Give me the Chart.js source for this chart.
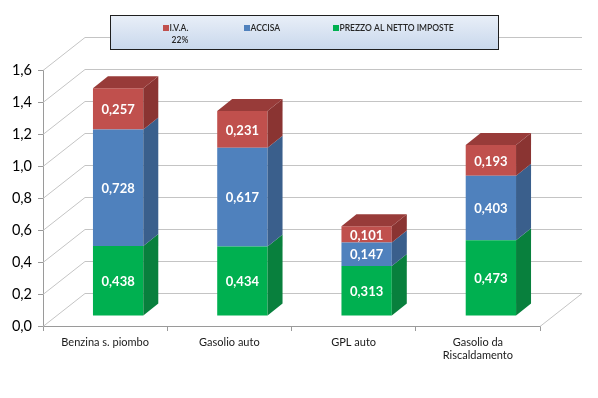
<!DOCTYPE html>
<html>
<head>
<meta charset="utf-8">
<script src="https://cdn.jsdelivr.net/npm/chart.js@4/dist/chart.umd.min.js"></script>
<style>
  html, body { margin: 0; padding: 0; background: #fff; }
  #wrap { width: 598px; height: 398px; }
</style>
</head>
<body>
<div id="wrap"><canvas id="mycanvas" width="598" height="398"></canvas></div>
<script>
// data
var categories = ['Benzina s. piombo', 'Gasolio auto', 'GPL auto', ['Gasolio da', 'Riscaldamento']];
var iva    = [0.257, 0.231, 0.101, 0.193];
var accisa = [0.728, 0.617, 0.147, 0.403];
var netto  = [0.438, 0.434, 0.313, 0.473];
var seriesNames = ['I.V.A.', 'ACCISA', 'PREZZO AL NETTO IMPOSTE'];
var ivaNote = '22%';

// 3d look
var WALL_DX = 42, WALL_DY = -33;   // back wall offset
var BAR_DX = 13, BAR_DY = -10;     // bars sit a bit inside the floor
var SIDE_DX = 15, SIDE_DY = -12;   // bar depth

var shades = {
  netto:  { front: '#00B050', side: '#08803D', top: '#0A8F45' },
  accisa: { front: '#4F81BD', side: '#3A5F8C', top: '#42699A' },
  iva:    { front: '#C0504D', side: '#8A3432', top: '#983B39' }
};

function fmt(v, d) {
  return v.toFixed(d).replace('.', ',');
}

var depth3d = {
  id: 'depth3d',
  beforeDatasetsDraw: function(chart) {
    var ctx = chart.ctx, a = chart.chartArea, y = chart.scales.y;
    ctx.save();
    ctx.strokeStyle = '#c4c4c4';
    ctx.lineWidth = 1;
    y.ticks.forEach(function(t) {
      var py = Math.round(y.getPixelForValue(t.value)) + 0.5;
      ctx.beginPath();
      ctx.moveTo(a.left, py);
      ctx.lineTo(a.left + WALL_DX, py + WALL_DY);
      ctx.lineTo(a.right + WALL_DX, py + WALL_DY);
      ctx.stroke();
    });
    ctx.beginPath();
    ctx.moveTo(a.right, a.bottom + 0.5);
    ctx.lineTo(a.right + WALL_DX, a.bottom + 0.5 + WALL_DY);
    ctx.stroke();
    ctx.restore();

    ctx.save();
    ctx.translate(BAR_DX, BAR_DY);
  },
  afterDatasetsDraw: function(chart) {
    var ctx = chart.ctx;
    var n = chart.data.datasets.length;
    chart.data.datasets.forEach(function(ds, di) {
      var meta = chart.getDatasetMeta(di);
      meta.data.forEach(function(bar) {
        var right = bar.x + bar.width / 2, left = bar.x - bar.width / 2;
        ctx.fillStyle = ds.sideColor;
        ctx.beginPath();
        ctx.moveTo(right, bar.y);
        ctx.lineTo(right + SIDE_DX, bar.y + SIDE_DY);
        ctx.lineTo(right + SIDE_DX, bar.base + SIDE_DY);
        ctx.lineTo(right, bar.base);
        ctx.closePath();
        ctx.fill();
        if (di === n - 1) {
          ctx.fillStyle = ds.topColor;
          ctx.beginPath();
          ctx.moveTo(left, bar.y);
          ctx.lineTo(right, bar.y);
          ctx.lineTo(right + SIDE_DX, bar.y + SIDE_DY);
          ctx.lineTo(left + SIDE_DX, bar.y + SIDE_DY);
          ctx.closePath();
          ctx.fill();
        }
      });
    });
    // value labels
    ctx.fillStyle = '#ffffff';
    ctx.font = 'bold 13px Lato';
    ctx.textAlign = 'center';
    ctx.textBaseline = 'middle';
    chart.data.datasets.forEach(function(ds, di) {
      var meta = chart.getDatasetMeta(di);
      meta.data.forEach(function(bar, i) {
        ctx.fillText(fmt(ds.data[i], 3), bar.x, (bar.y + bar.base) / 2 + 1);
      });
    });
    ctx.restore();
  },
  afterDraw: function(chart) {
    var ctx = chart.ctx;
    ctx.save();
    var g = ctx.createLinearGradient(0, 15, 0, 49);
    g.addColorStop(0, '#e9eff8');
    g.addColorStop(1, '#c9d8ec');
    ctx.fillStyle = g;
    ctx.fillRect(110, 15, 388, 34);
    ctx.strokeStyle = '#1f1f1f';
    ctx.lineWidth = 1;
    ctx.strokeRect(110.5, 15.5, 388, 34);

    var items = [
      { x: 163, color: shades.iva.front, text: seriesNames[0] },
      { x: 244, color: shades.accisa.front, text: seriesNames[1] },
      { x: 333, color: shades.netto.front, text: seriesNames[2] }
    ];
    ctx.font = '600 8.5px Lato';
    ctx.textBaseline = 'middle';
    ctx.textAlign = 'left';
    items.forEach(function(it) {
      ctx.fillStyle = it.color;
      ctx.fillRect(it.x, 25, 6, 6);
      ctx.fillStyle = '#262626';
      ctx.fillText(it.text, it.x + 6.5, 28.5);
    });
    ctx.textAlign = 'center';
    ctx.fillText(ivaNote, 180, 40);
    ctx.restore();
  }
};

var ctx = document.getElementById('mycanvas');

var chartdata = {
  labels: categories,
  datasets: [
    { label: seriesNames[2], data: netto, backgroundColor: shades.netto.front,
      sideColor: shades.netto.side, topColor: shades.netto.top },
    { label: seriesNames[1], data: accisa, backgroundColor: shades.accisa.front,
      sideColor: shades.accisa.side, topColor: shades.accisa.top },
    { label: seriesNames[0], data: iva, backgroundColor: shades.iva.front,
      sideColor: shades.iva.side, topColor: shades.iva.top }
  ]
};

var BarGraph = new Chart(ctx, {
  type: 'bar',
  data: chartdata,
  plugins: [depth3d],
  options: {
    responsive: false,
    animation: false,
    layout: { padding: { left: 0, right: 58, top: 70, bottom: 0 } },
    datasets: { bar: { barPercentage: 0.405, categoryPercentage: 1 } },
    plugins: { legend: { display: false }, tooltip: { enabled: false } },
    scales: {
      x: {
        stacked: true,
        afterFit: function(s) { s.height = 72; },
        grid: { drawOnChartArea: false, tickLength: 5, color: '#9a9a9a' },
        border: { color: '#9a9a9a' },
        ticks: { color: '#1a1a1a', font: { family: 'Lato', size: 11 }, padding: 5, maxRotation: 0, autoSkip: false }
      },
      y: {
        stacked: true,
        min: 0,
        max: 1.6,
        afterFit: function(s) { s.width = 43; },
        grid: { drawOnChartArea: false, tickLength: 5, color: '#9a9a9a' },
        border: { color: '#9a9a9a' },
        ticks: {
          stepSize: 0.2,
          color: '#000000',
          padding: 6,
          font: { family: 'Lato', size: 14.5 },
          callback: function(v) { return fmt(v, 1); }
        }
      }
    }
  }
});
</script>
</body>
</html>
